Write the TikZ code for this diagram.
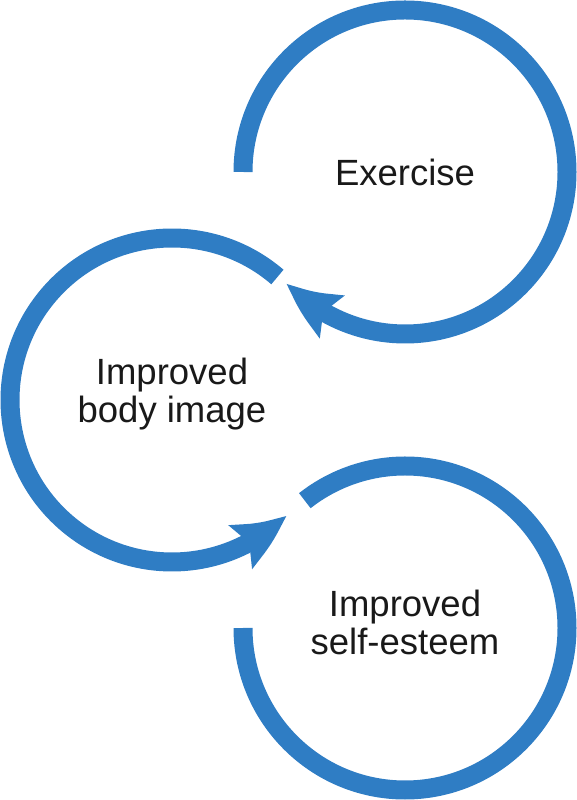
\documentclass[tikz,border=0pt]{standalone}
\usepackage{fontspec}
\setmainfont{Liberation Sans}
\usetikzlibrary{arrows.meta,bending}
\definecolor{cycleblue}{RGB}{47,125,196}
\tikzset{
  ring/.style={draw=cycleblue, line width=19pt, line cap=butt},
  ringarrow/.style={-{Stealth[length=56pt,width=47pt,inset=9pt,bend]}},
  label/.style={inner sep=0pt, align=center, font=\fontsize{36.5pt}{38pt}\selectfont, text=black!90}
}
\begin{document}
\begin{tikzpicture}[x=1pt,y=1pt]
\useasboundingbox (0,0) rectangle (577,800);
\coordinate (c1) at (405,628);
\coordinate (c2) at (172,400);
\coordinate (c3) at (405,172);
% circle 1: Exercise
\draw[ring,ringarrow] ([shift={(180:162)}]c1) arc[start angle=180, end angle=-136.8, radius=162];
% circle 2: body image
\draw[ring,ringarrow] ([shift={(49.4:162)}]c2) arc[start angle=49.4, end angle=314.8, radius=162];
% circle 3: self-esteem
\draw[ring] ([shift={(180:162)}]c3) arc[start angle=180, end angle=488.2, radius=162];
\node[label] (t1) at ([yshift=0pt]c1) {Exercise};
\node[label] (t2) at ([yshift=6pt]c2) {Improved\\body image};
\node[label] (t3) at ([yshift=6pt]c3) {Improved\\self-esteem};
\end{tikzpicture}
\end{document}
